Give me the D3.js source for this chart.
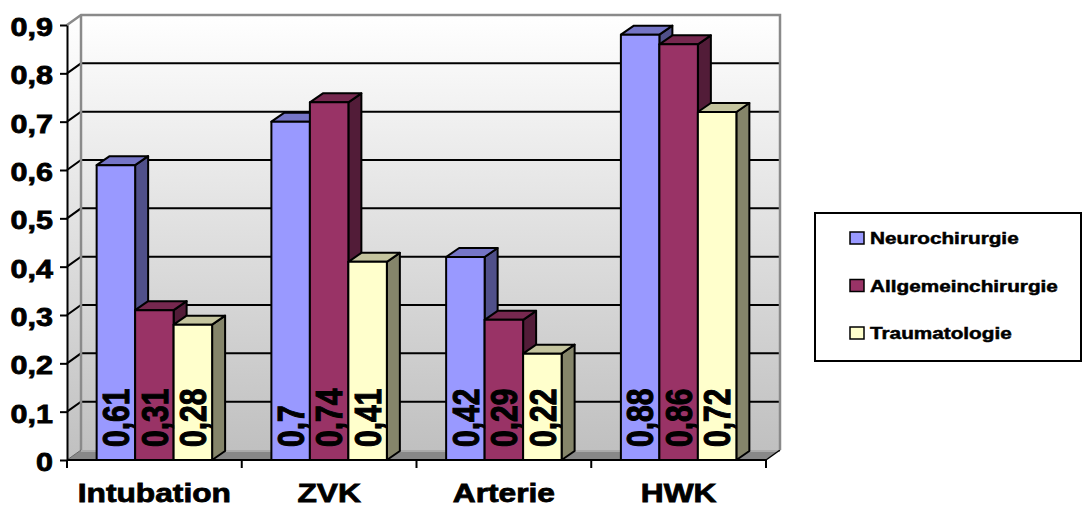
<!DOCTYPE html>
<html><head><meta charset="utf-8">
<script src="https://cdn.jsdelivr.net/npm/d3@7"></script>
<style>body{margin:0;background:#fff}svg{display:block}text{font-family:Arial,"Liberation Sans",sans-serif;font-weight:bold;fill:#000;stroke:#000}</style>
</head><body>
<svg id="chart" width="1083" height="507"></svg>
<script>
const categories = ["Intubation", "ZVK", "Arterie", "HWK"];
const seriesNames = ["Neurochirurgie", "Allgemeinchirurgie", "Traumatologie"];
const neuro = [0.61, 0.7, 0.42, 0.88];
const allgemein = [0.31, 0.74, 0.29, 0.86];
const trauma = [0.28, 0.41, 0.22, 0.72];
const yTicks = [0, 0.1, 0.2, 0.3, 0.4, 0.5, 0.6, 0.7, 0.8, 0.9];
const yTickLabels = ["0", "0,1", "0,2", "0,3", "0,4", "0,5", "0,6", "0,7", "0,8", "0,9"];

const seriesValues = [neuro, allgemein, trauma];
const faceColors = [
  {front: "#9999FF", top: "#7575C6", side: "#50508A"},
  {front: "#993366", top: "#76284F", side: "#521C38"},
  {front: "#FFFFCC", top: "#C4C49E", side: "#85856A"}
];

const svg = d3.select("#chart");
const SX = 1.22; // horizontal stretch of the original rendering
const DX = 14, DY = -10; // depth offset

const x = d3.scaleBand().domain(categories).range([67, 766]).padding(0);
const xs = d3.scaleBand().domain(seriesNames).range([0, x.bandwidth()]).paddingInner(0).paddingOuter(0.77);
const y = d3.scaleLinear().domain([0, 0.9]).range([460, 25]);

const defs = svg.append("defs");
const grad = defs.append("linearGradient").attr("id", "wall").attr("x1", 0).attr("y1", 0).attr("x2", 0).attr("y2", 1);
grad.append("stop").attr("offset", "0%").attr("stop-color", "#ffffff");
grad.append("stop").attr("offset", "100%").attr("stop-color", "#c0c0c0");

const x0 = x.range()[0], x1 = x.range()[1];
const yTop = y(0.9), yBot = y(0);

function stretch(sel) {
  sel.each(function() {
    const w = this.getComputedTextLength();
    d3.select(this).attr("textLength", w * SX).attr("lengthAdjust", "spacingAndGlyphs");
  });
}

// side wall
svg.append("path")
  .attr("d", `M${x0},${yBot} L${x0},${yTop} L${x0+DX},${yTop+DY} L${x0+DX},${yBot+DY} Z`)
  .attr("fill", "url(#wall)");
// back wall
svg.append("rect").attr("x", x0 + DX).attr("y", yTop + DY).attr("width", x1 - x0).attr("height", yBot - yTop)
  .attr("fill", "url(#wall)");
// floor
svg.append("path")
  .attr("d", `M${x0},${yBot} L${x0+DX},${yBot+DY} L${x1+DX},${yBot+DY} L${x1},${yBot} Z`)
  .attr("fill", "#888888");
svg.append("line").attr("x1", x0+DX).attr("x2", x1+DX).attr("y1", yBot+DY+1).attr("y2", yBot+DY+1)
  .attr("stroke", "#aaaaaa").attr("stroke-width", 2);
svg.append("line").attr("x1", x1).attr("y1", yBot).attr("x2", x1+DX).attr("y2", yBot+DY)
  .attr("stroke", "#000").attr("stroke-width", 1.5);

// gridlines
yTicks.filter(v => v > 0 && v < 0.9).forEach(v => {
  svg.append("path")
    .attr("d", `M${x0},${y(v)} L${x0+DX},${y(v)+DY} L${x1+DX},${y(v)+DY}`)
    .attr("fill", "none").attr("stroke", "#000").attr("stroke-width", 2);
});
// wall edges
svg.append("path")
  .attr("d", `M${x0},${yTop} L${x0+DX},${yTop+DY} L${x1+DX},${yTop+DY} L${x1+DX},${yBot+DY}`)
  .attr("fill", "none").attr("stroke", "#8a8a8a").attr("stroke-width", 2.5);
svg.append("line").attr("x1", x0+DX).attr("x2", x0+DX).attr("y1", yTop+DY).attr("y2", yBot+DY)
  .attr("stroke", "#8a8a8a").attr("stroke-width", 2.5);
svg.append("line").attr("x1", x0).attr("y1", yBot).attr("x2", x0+DX).attr("y2", yBot+DY)
  .attr("stroke", "#666").attr("stroke-width", 1);

// bars
const bars = svg.append("g");
categories.forEach((c, ci) => {
  seriesNames.forEach((s, si) => {
    const v = seriesValues[si][ci];
    const bx = x(c) + xs(s), bw = xs.bandwidth();
    const by = y(v), b0 = y(0);
    const col = faceColors[si];
    const g = bars.append("g").attr("stroke", "#000").attr("stroke-width", 2).attr("stroke-linejoin", "round");
    g.append("path").attr("fill", col.side)
      .attr("d", `M${bx+bw},${b0} L${bx+bw},${by} L${bx+bw+DX-1},${by+DY+1} L${bx+bw+DX-1},${b0+DY+1} Z`);
    g.append("path").attr("fill", col.top)
      .attr("d", `M${bx},${by} L${bx+DX-1},${by+DY+1} L${bx+bw+DX-1},${by+DY+1} L${bx+bw},${by} Z`);
    g.append("rect").attr("fill", col.front).attr("x", bx).attr("y", by).attr("width", bw).attr("height", b0 - by);
    svg.append("text")
      .attr("transform", `translate(${bx + bw/2},${b0 - 13}) scale(${SX},1) rotate(-90)`)
      .attr("dy", "0.36em")
      .attr("font-size", 30).attr("stroke-width", 0.9)
      .text(String(v).replace(".", ","));
  });
});

// y axis
const yAxis = svg.append("g").attr("transform", `translate(${x0},0)`)
  .call(d3.axisLeft(y).tickValues(yTicks).tickFormat((d, i) => yTickLabels[i]).tickSize(7).tickSizeOuter(0).tickPadding(0));
yAxis.select(".domain").attr("stroke", "#000").attr("stroke-width", 2);
yAxis.selectAll(".tick line").attr("stroke", "#000").attr("stroke-width", 2);
yAxis.selectAll(".tick text").attr("font-size", 25).attr("font-family", "Arial, 'Liberation Sans', sans-serif")
  .attr("font-weight", "bold").attr("fill", "#000").attr("stroke", "#000").attr("stroke-width", 0.8)
  .attr("dy", "0.42em").attr("text-anchor", "start")
  .each(function() {
    const w = this.getComputedTextLength();
    d3.select(this).attr("x", -14 - w * SX).attr("textLength", w * SX).attr("lengthAdjust", "spacingAndGlyphs");
  });

// x axis
svg.append("line").attr("x1", x0).attr("x2", x1).attr("y1", yBot).attr("y2", yBot)
  .attr("stroke", "#000").attr("stroke-width", 2);
const boundaries = categories.map(c => x(c)).concat([x1]);
svg.selectAll(".xtick").data(boundaries).enter().append("line")
  .attr("x1", d => d).attr("x2", d => d).attr("y1", yBot).attr("y2", yBot + 8)
  .attr("stroke", "#000").attr("stroke-width", 2);
svg.selectAll(".xlabel").data(categories).enter().append("text")
  .attr("x", d => x(d) + x.bandwidth()/2).attr("y", 502)
  .attr("text-anchor", "middle").attr("font-size", 26).attr("stroke-width", 0.8)
  .text(d => d)
  .call(stretch);

// legend
const lg = svg.append("g");
lg.append("rect").attr("x", 815).attr("y", 213).attr("width", 266).attr("height", 148)
  .attr("fill", "#fff").attr("stroke", "#000").attr("stroke-width", 2);
const legY = d3.scalePoint().domain(seriesNames).range([238, 333]);
seriesNames.forEach((s, i) => {
  lg.append("rect").attr("x", 850).attr("y", legY(s) - 6).attr("width", 14).attr("height", 12)
    .attr("fill", faceColors[i].front).attr("stroke", "#000").attr("stroke-width", 1.5);
  lg.append("text").attr("x", 870).attr("y", legY(s)).attr("dy", "0.36em").attr("font-size", 17)
    .attr("stroke-width", 0.5)
    .text(s)
    .call(stretch);
});
</script>
</body></html>
